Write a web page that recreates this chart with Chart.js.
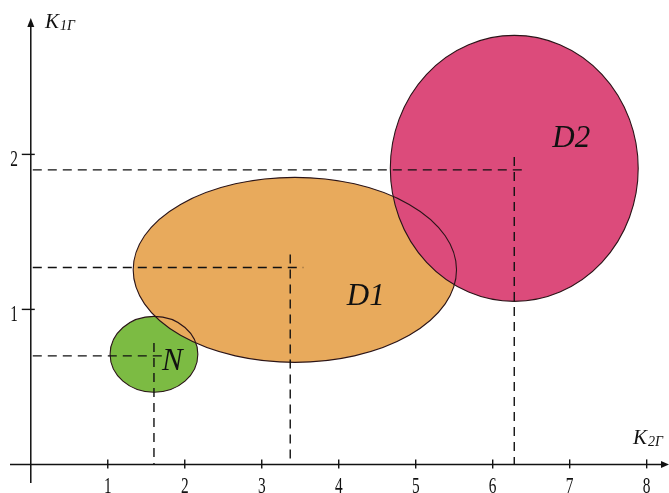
<!DOCTYPE html>
<html>
<head>
<meta charset="utf-8">
<script src="https://cdn.jsdelivr.net/npm/chart.js@4"></script>
<style>
  html, body { margin: 0; padding: 0; background: #fff; }
  #wrap { width: 669px; height: 493px; }
</style>
</head>
<body>
<div id="wrap"><canvas id="myChart"></canvas></div>
<script>
// regions (data units)
const regionNames = ['N', 'D1', 'D2'];
const centerX = [1.60, 3.43, 6.28];
const centerY = [0.71, 1.255, 1.91];
const radiusX = [0.57, 2.10, 1.61];
const radiusY = [0.245, 0.597, 0.858];
// dashed guide points
const guideX = [1.60, 3.37, 6.28];
const guideY = [0.70, 1.27, 1.90];
// axis ticks
const xTicks = [1, 2, 3, 4, 5, 6, 7, 8];
const yTicks = [1, 2];

const fillColors = ['#7cbb43', '#e8aa5c', '#dc4b7b'];
// label offset from ellipse centre, px
const labelOffsets = [[8, 16], [52, 35], [38, -21]];

function condensedText(ctx, text, x, y, sx) {
  ctx.save();
  ctx.translate(x, y);
  ctx.scale(sx, 1);
  ctx.fillText(text, 0, 0);
  ctx.restore();
}

const sketchPlugin = {
  id: 'sketch',
  beforeDatasetsDraw(chart) {
    const ctx = chart.ctx;
    const xs = chart.scales.x;
    const ys = chart.scales.y;
    const area = chart.chartArea;
    const px = v => xs.getPixelForValue(v);
    const py = v => ys.getPixelForValue(v);
    const x0 = px(0), y0 = py(0);

    ctx.save();
    // fills
    for (let i = 0; i < regionNames.length; i++) {
      const cx = px(centerX[i]), cy = py(centerY[i]);
      const rx = px(centerX[i] + radiusX[i]) - cx;
      const ry = cy - py(centerY[i] + radiusY[i]);
      ctx.beginPath();
      ctx.ellipse(cx, cy, rx, ry, 0, 0, Math.PI * 2);
      ctx.fillStyle = fillColors[i];
      ctx.fill();
    }
    // outlines on top
    ctx.strokeStyle = '#2a1418';
    ctx.lineWidth = 1.1;
    for (let i = 0; i < regionNames.length; i++) {
      const cx = px(centerX[i]), cy = py(centerY[i]);
      const rx = px(centerX[i] + radiusX[i]) - cx;
      const ry = cy - py(centerY[i] + radiusY[i]);
      ctx.beginPath();
      ctx.ellipse(cx, cy, rx, ry, 0, 0, Math.PI * 2);
      ctx.stroke();
    }

    // dashed guides
    ctx.strokeStyle = '#111';
    ctx.lineWidth = 1.4;
    ctx.setLineDash([9, 6]);
    for (let i = 0; i < guideX.length; i++) {
      const gx = px(guideX[i]), gy = py(guideY[i]);
      ctx.beginPath();
      ctx.moveTo(x0 + 2, gy);
      ctx.lineTo(gx + 13, gy);
      ctx.stroke();
      ctx.beginPath();
      ctx.moveTo(gx, gy - 13);
      ctx.lineTo(gx, y0);
      ctx.stroke();
    }
    ctx.setLineDash([]);

    // axes
    ctx.strokeStyle = '#111';
    ctx.fillStyle = '#111';
    ctx.lineWidth = 1.5;
    ctx.beginPath();
    ctx.moveTo(area.left, y0);
    ctx.lineTo(area.right - 6, y0);
    ctx.moveTo(x0, area.bottom);
    ctx.lineTo(x0, area.top + 4);
    ctx.stroke();
    // arrows
    ctx.beginPath();
    ctx.moveTo(area.right, y0);
    ctx.lineTo(area.right - 8, y0 - 3.5);
    ctx.lineTo(area.right - 8, y0 + 3.5);
    ctx.closePath();
    ctx.fill();
    ctx.beginPath();
    ctx.moveTo(x0, area.top - 2);
    ctx.lineTo(x0 - 3.5, area.top + 7);
    ctx.lineTo(x0 + 3.5, area.top + 7);
    ctx.closePath();
    ctx.fill();

    // tick marks + labels
    ctx.lineWidth = 1.4;
    ctx.font = '24px "Liberation Serif", serif';
    ctx.textBaseline = 'alphabetic';
    ctx.textAlign = 'center';
    xTicks.forEach(t => {
      const x = px(t);
      ctx.beginPath();
      ctx.moveTo(x, y0 - 5);
      ctx.lineTo(x, y0 + 4);
      ctx.stroke();
      condensedText(ctx, String(t), x, y0 + 29, 0.64);
    });
    ctx.textAlign = 'right';
    yTicks.forEach(t => {
      const y = py(t);
      ctx.beginPath();
      ctx.moveTo(x0 - 9, y);
      ctx.lineTo(x0 + 4, y);
      ctx.stroke();
      condensedText(ctx, String(t), 18, y + 12, 0.64);
    });

    // axis titles
    ctx.textAlign = 'left';
    ctx.font = 'italic 21px "Liberation Serif", serif';
    ctx.fillText('K', 45, 28);
    ctx.font = 'italic 14px "Liberation Serif", serif';
    ctx.fillText('1Г', 60, 30);
    ctx.font = 'italic 21px "Liberation Serif", serif';
    ctx.fillText('K', 633, 444);
    ctx.font = 'italic 14px "Liberation Serif", serif';
    ctx.fillText('2Г', 648, 446);

    // region labels
    ctx.font = 'italic 31px "Liberation Serif", serif';
    for (let i = 0; i < regionNames.length; i++) {
      const cx = px(centerX[i]), cy = py(centerY[i]);
      ctx.fillText(regionNames[i], cx + labelOffsets[i][0], cy + labelOffsets[i][1]);
    }
    ctx.restore();
  }
};

new Chart(document.getElementById('myChart'), {
  type: 'scatter',
  data: {
    datasets: [{
      label: 'centres',
      data: regionNames.map((n, i) => ({ x: centerX[i], y: centerY[i] })),
      pointRadius: 0,
      pointHoverRadius: 0
    }]
  },
  options: {
    responsive: true,
    maintainAspectRatio: false,
    animation: false,
    events: [],
    layout: { padding: { left: 10, right: 0, top: 20, bottom: 10 } },
    plugins: { legend: { display: false }, tooltip: { enabled: false } },
    scales: {
      x: { type: 'linear', min: -0.27, max: 8.29, display: false },
      y: { type: 'linear', min: -0.12, max: 2.867, display: false }
    }
  },
  plugins: [sketchPlugin]
});
</script>
</body>
</html>
